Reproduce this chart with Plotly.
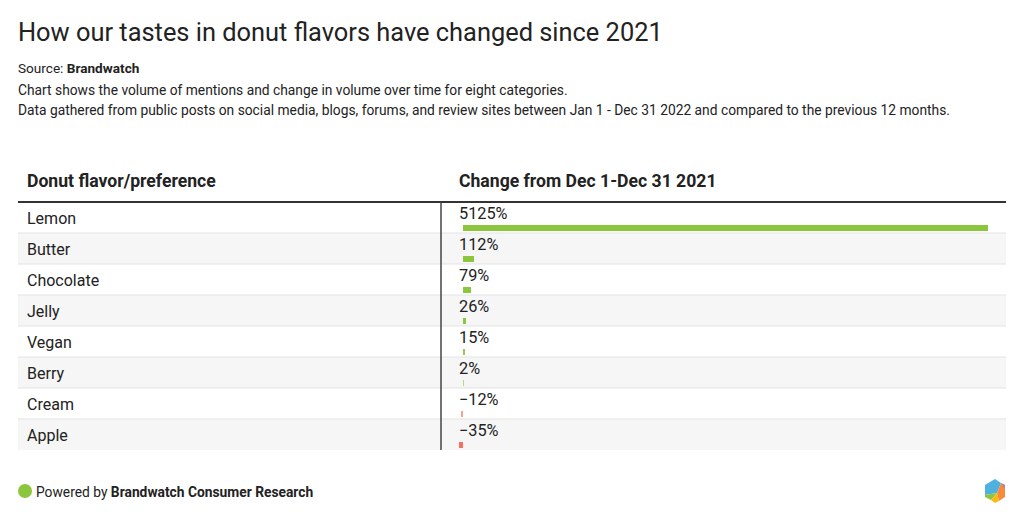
import plotly.graph_objects as go

W, H = 1008, 509   # page body has an 8px margin inside the 1024x525 window
OFF = 8

categories = ["Lemon", "Butter", "Chocolate", "Jelly", "Vegan", "Berry", "Cream", "Apple"]
changes = [5125, 112, 79, 26, 15, 2, -12, -35]
value_labels = ["5125%", "112%", "79%", "26%", "15%", "2%", "\u221212%", "\u221235%"]
bar_colors = ["#8cc63f", "#8cc63f", "#8cc63f", "#8cc63f", "#95ca4c", "#b3d984", "#f5a294", "#f8715c"]

FONT = "Roboto"

def px(x):
    return (x - OFF) / W

def py(y):
    return 1 - (y - OFF) / H

# table geometry (window pixels)
TOP, BOTTOM = 202, 450
LEFT, RIGHT = 18, 1006
ZERO_X, MAX_X = 463, 988
n = len(categories)
k = (MAX_X - ZERO_X) / max(changes)
xr0 = (441 - ZERO_X) / k
xr1 = (RIGHT - ZERO_X) / k

fig = go.Figure()

fig.add_trace(go.Bar(
    x=changes,
    y=[i + 0.84 for i in range(n)],
    orientation="h",
    width=0.19,
    marker=dict(color=bar_colors, line=dict(width=0)),
    hoverinfo="skip",
))

shapes = []
annotations = []
for i in range(n):
    if i % 2 == 1:
        shapes.append(dict(type="rect", xref="paper", yref="y", x0=px(LEFT), x1=px(RIGHT),
                           y0=i, y1=i + 1, fillcolor="#f6f6f6", line=dict(width=0), layer="below"))
    if i > 0:
        shapes.append(dict(type="line", xref="paper", yref="y", x0=px(LEFT), x1=px(RIGHT),
                           y0=i, y1=i, line=dict(color="#e3e3e3", width=1), layer="below"))
    annotations.append(dict(text=categories[i], xref="paper", yref="y", x=px(25), y=i + 0.52,
                            xanchor="left", yanchor="middle", showarrow=False,
                            font=dict(family=FONT, size=16, color="#222")))
    annotations.append(dict(text=value_labels[i], xref="paper", yref="y", x=px(457), y=i + 0.37,
                            xanchor="left", yanchor="middle", showarrow=False,
                            font=dict(family=FONT, size=16.3, color="#222")))

shapes.append(dict(type="line", xref="paper", yref="paper", x0=px(LEFT), x1=px(RIGHT),
                   y0=py(TOP), y1=py(TOP), line=dict(color="#333", width=2)))
shapes.append(dict(type="line", xref="paper", yref="paper", x0=px(441), x1=px(441),
                   y0=py(TOP), y1=py(BOTTOM), line=dict(color="#444", width=1.5)))

# footer dot
shapes.append(dict(type="circle", xref="paper", yref="paper",
                   x0=px(18), x1=px(32), y0=py(498), y1=py(484),
                   fillcolor="#8cc63f", line=dict(width=0)))

# logo
cx, cy, r = 995, 491, 12
facets = [
    ([(cx - 10, cy - 6), (cx, cy - r), (cx + 6, cy - 8), (cx + 2, cy + 2), (cx - 10, cy + 4)], "#4fb1e0"),
    ([(cx + 6, cy - 8), (cx + 10, cy - 6), (cx + 10, cy + 6), (cx + 4, cy + 10), (cx + 2, cy + 2)], "#f68b3c"),
    ([(cx - 10, cy + 4), (cx + 2, cy + 2), (cx - 4, cy + 9), (cx - 10, cy + 6)], "#8cc63f"),
    ([(cx - 4, cy + 9), (cx + 2, cy + 2), (cx + 4, cy + 10), (cx, cy + r)], "#fdb913"),
    ([(cx + 6, cy - 8), (cx + 10, cy - 6), (cx + 10, cy - 2)], "#a77fc0"),
]
for poly, col in facets:
    path = "M " + " L ".join(f"{px(x)},{py(y)}" for x, y in poly) + " Z"
    shapes.append(dict(type="path", xref="paper", yref="paper", path=path,
                       fillcolor=col, line=dict(width=0)))

def add_text(text, x, y, size, color="#222", anchor="left"):
    annotations.append(dict(text=text, xref="paper", yref="paper", x=px(x), y=py(y),
                            xanchor=anchor, yanchor="middle", showarrow=False,
                            font=dict(family=FONT, size=size, color=color)))

add_text("How our tastes in donut flavors have changed since 2021", 16, 32, 25.4)
add_text("Source: <b>Brandwatch</b>", 16, 68, 13.6)
add_text("Chart shows the volume of mentions and change in volume over time for eight categories.", 16, 90, 13.8)
add_text("Data gathered from public posts on social media, blogs, forums, and review sites between Jan 1 - Dec 31 2022 and compared to the previous 12 months.", 16, 110, 13.8)
add_text("<b>Donut flavor/preference</b>", 25, 181, 17.6)
add_text("<b>Change from Dec 1-Dec 31 2021</b>", 457, 181, 17.6)
add_text("Powered by <b>Brandwatch Consumer Research</b>", 34, 492, 13.8)

fig.update_layout(
    width=W, height=H,
    margin=dict(l=0, r=0, t=0, b=0),
    paper_bgcolor="white", plot_bgcolor="rgba(0,0,0,0)",
    showlegend=False,
    xaxis=dict(domain=[px(441), px(RIGHT)], range=[xr0, xr1], visible=False, fixedrange=True),
    yaxis=dict(domain=[py(BOTTOM), py(TOP)], range=[n, 0], visible=False, fixedrange=True),
    shapes=shapes, annotations=annotations,
    bargap=0,
)

fig.write_html("out.html", config={"displayModeBar": False})
